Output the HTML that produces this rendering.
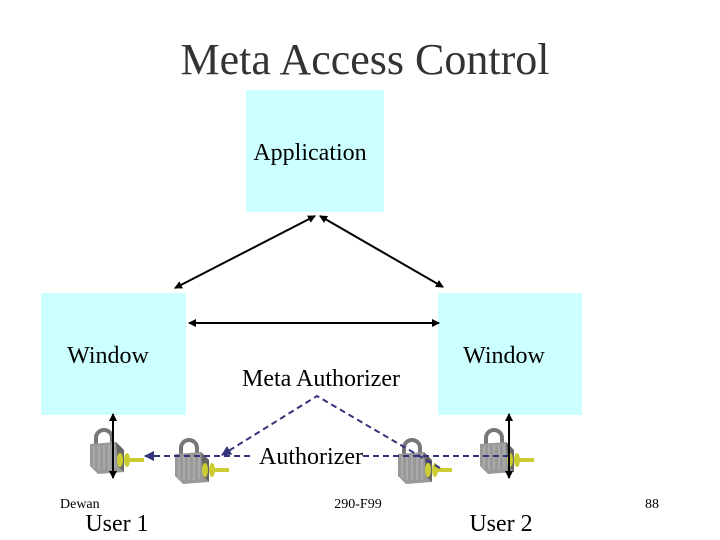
<html><body style="margin:0;background:#fff">
<svg width="720" height="540" xmlns="http://www.w3.org/2000/svg" font-family="Liberation Serif, serif">
<defs>
<marker id="a" markerWidth="8" markerHeight="8" refX="7" refY="4" orient="auto-start-reverse" markerUnits="userSpaceOnUse"><path d="M0,0L8,4L0,8z" fill="#000"/></marker>
<marker id="b" markerWidth="10" markerHeight="10" refX="9" refY="5" orient="auto" markerUnits="userSpaceOnUse"><path d="M0,0L10,5L0,10z" fill="#33337a"/></marker>
<g id="lock">
<path d="M6,14 V8 a8,8 0 0 1 16,0 V14" fill="none" stroke="#777" stroke-width="4"/>
<path d="M0,14 L26,12 L34,20 L34,42 L8,44 L0,36z" fill="#999"/>
<path d="M26,12 L34,20 L34,42 L28,36z" fill="#666"/>
<g stroke="#bbb" stroke-width="1"><line x1="4" y1="16" x2="4" y2="38"/><line x1="9" y1="16" x2="9" y2="40"/><line x1="14" y1="15" x2="14" y2="40"/><line x1="19" y1="15" x2="19" y2="40"/><line x1="24" y1="14" x2="24" y2="39"/></g>
<ellipse cx="30" cy="30" rx="3" ry="7" fill="#cc3"/><ellipse cx="37" cy="30" rx="3" ry="7" fill="#cc3"/>
<rect x="36" y="28" width="18" height="4" fill="#cc3"/>
</g>
</defs>
<text x="365" y="74" font-size="44" text-anchor="middle" fill="#333">Meta Access Control</text>
<rect x="246" y="90" width="138" height="122" fill="#ccffff"/>
<rect x="41" y="293" width="145" height="122" fill="#ccffff"/>
<rect x="438" y="293" width="144" height="122" fill="#ccffff"/>
<text x="310" y="160" font-size="24" text-anchor="middle">Application</text>
<text x="108" y="363" font-size="24" text-anchor="middle">Window</text>
<text x="504" y="363" font-size="24" text-anchor="middle">Window</text>
<text x="321" y="386" font-size="24" text-anchor="middle">Meta Authorizer</text>
<text x="311" y="464" font-size="24" text-anchor="middle">Authorizer</text>
<use href="#lock" x="90" y="430"/>
<use href="#lock" x="175" y="440"/>
<use href="#lock" x="398" y="440"/>
<use href="#lock" x="480" y="430"/>
<g stroke="#000" stroke-width="2" fill="none">
<line x1="315" y1="216" x2="175" y2="288" marker-start="url(#a)" marker-end="url(#a)"/>
<line x1="320" y1="216" x2="443" y2="287" marker-start="url(#a)" marker-end="url(#a)"/>
<line x1="189" y1="323" x2="439" y2="323" marker-start="url(#a)" marker-end="url(#a)"/>
<line x1="113" y1="414" x2="113" y2="478" marker-start="url(#a)" marker-end="url(#a)"/>
<line x1="509" y1="414" x2="509" y2="478" marker-start="url(#a)" marker-end="url(#a)"/>
</g>
<g stroke="#33337a" stroke-width="2" stroke-dasharray="6,4" fill="none">
<polyline points="440,468 317,396 222,455" marker-end="url(#b)"/>
<line x1="250" y1="456" x2="145" y2="456" marker-end="url(#b)"/>
<line x1="363" y1="456" x2="508" y2="456"/>
</g>
<text x="60" y="508" font-size="14">Dewan</text>
<text x="358" y="508" font-size="14" text-anchor="middle">290-F99</text>
<text x="652" y="508" font-size="14" text-anchor="middle">88</text>
<text x="117" y="531" font-size="24" text-anchor="middle">User 1</text>
<text x="501" y="531" font-size="24" text-anchor="middle">User 2</text>
</svg>
</body></html>
